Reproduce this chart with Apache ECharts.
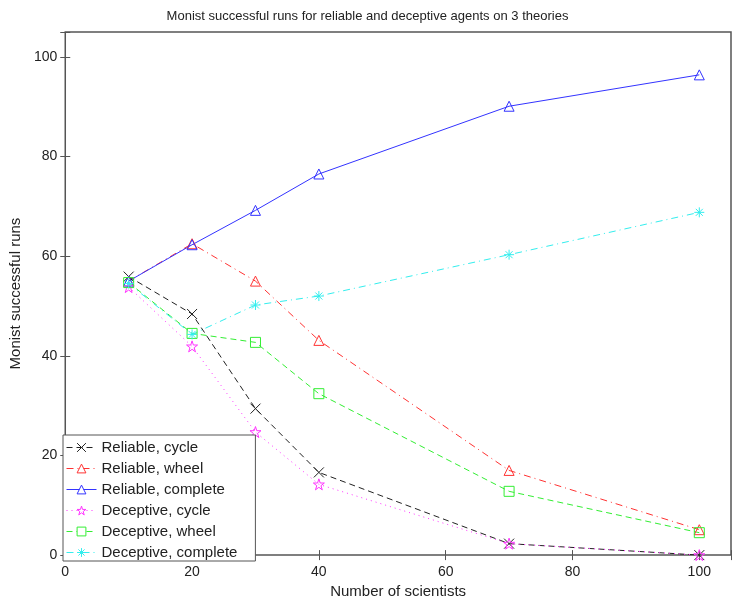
<!DOCTYPE html>
<html>
<head>
<meta charset="utf-8">
<script src="https://cdn.jsdelivr.net/npm/echarts@6/dist/echarts.min.js"></script>
<style>
  html, body { margin: 0; padding: 0; background: #fff; }
  #chart { width: 735px; height: 604px; }
</style>
</head>
<body>
<div id="chart"></div>
<script>
// number of scientists
var scientists = [10, 20, 30, 40, 70, 100];

var reliableCycle    = [55.9, 48.4, 29.4, 16.6, 2.3, 0];
var reliableWheel    = [55.0, 62.5, 55.0, 43.1, 17.0, 5.1];
var reliableComplete = [55.0, 62.3, 69.2, 76.5, 90.1, 96.4];
var deceptiveCycle   = [53.8, 41.9, 24.7, 14.2, 2.3, 0];
var deceptiveWheel   = [54.7, 44.5, 42.7, 32.4, 12.8, 4.5];
var deceptiveComplete = [54.5, 44.3, 50.2, 52.0, 60.3, 68.8];

var xTicks = [0, 20, 40, 60, 80, 100];
var yTicks = [0, 20, 40, 60, 80, 100];

var font = 'Liberation Sans, Arial, sans-serif';

// marker shapes drawn as outlines
var crossPath = 'path://M0,0L10,10M10,0L0,10';
var triPath = 'path://M5,0L10,10L0,10Z';
var rectPath = 'path://M0,0L10,0L10,10L0,10Z';
var starPath = 'path://M5,0L6.2,3.6L10,3.6L6.9,5.9L8.1,9.5L5,7.3L1.9,9.5L3.1,5.9L0,3.6L3.8,3.6Z';
var asteriskPath = 'path://M5,0L5,10M0,5L10,5M1.5,1.5L8.5,8.5M8.5,1.5L1.5,8.5';

function pairs(vals) {
  return scientists.map(function (x, i) { return [x, vals[i]]; });
}

function mkSeries(name, vals, color, dash, symbol, size) {
  return {
    name: name,
    type: 'line',
    data: pairs(vals),
    symbol: symbol,
    symbolSize: size,
    showAllSymbol: true,
    lineStyle: { color: color, width: 1, type: dash },
    itemStyle: { color: 'rgba(255,255,255,0)', borderColor: color, borderWidth: 1 },
    emphasis: { disabled: true },
    animation: false
  };
}

var names = ['Reliable, cycle', 'Reliable, wheel', 'Reliable, complete',
             'Deceptive, cycle', 'Deceptive, wheel', 'Deceptive, complete'];

var myChart = echarts.init(document.getElementById('chart'), null, { renderer: 'canvas' });

var inTick = { show: true, inside: true, length: 5, lineStyle: { color: '#555' } };

var option = {
  backgroundColor: '#fff',
  title: {
    text: 'Monist successful runs for reliable and deceptive agents on 3 theories',
    left: 'center',
    top: 5,
    textStyle: { fontFamily: font, fontSize: 13, fontWeight: 'normal', color: '#222' }
  },
  grid: {
    left: 59, right: 4, top: 32, bottom: 41,
    show: true, borderColor: '#555', borderWidth: 1.5, backgroundColor: '#fff'
  },
  legend: {
    orient: 'vertical',
    left: 63, top: 435,
    padding: [5, 18, 1, 3],
    itemWidth: 30, itemHeight: 11, itemGap: 6,
    backgroundColor: '#fff',
    borderColor: '#555', borderWidth: 1,
    itemStyle: { color: '#fff', borderWidth: 1 },
    lineStyle: { width: 1 },
    textStyle: { fontFamily: font, fontSize: 15, color: '#222' },
    data: names
  },
  xAxis: [{
    type: 'value', min: 0, max: 105, interval: 20,
    name: 'Number of scientists', nameLocation: 'middle', nameGap: 22,
    nameTextStyle: { fontFamily: font, fontSize: 15, color: '#222' },
    axisLine: { show: false },
    axisTick: inTick,
    splitLine: { show: false },
    axisLabel: {
      margin: 10, fontFamily: font, fontSize: 14, color: '#222',
      formatter: function (v) { return xTicks.indexOf(v) >= 0 ? String(v) : ''; }
    }
  }, {
    type: 'value', min: 0, max: 105, interval: 20, position: 'top',
    axisLine: { show: false }, axisTick: inTick, axisLabel: { show: false }, splitLine: { show: false }
  }],
  yAxis: [{
    type: 'value', min: 0, max: 105, interval: 20,
    name: 'Monist successful runs', nameLocation: 'middle', nameGap: 38,
    nameTextStyle: { fontFamily: font, fontSize: 15, color: '#222' },
    axisLine: { show: false },
    axisTick: inTick,
    splitLine: { show: false },
    axisLabel: {
      margin: 8, fontFamily: font, fontSize: 14, color: '#222',
      formatter: function (v) { return yTicks.indexOf(v) >= 0 ? String(v) : ''; }
    }
  }, {
    type: 'value', min: 0, max: 105, interval: 20, position: 'right',
    axisLine: { show: false }, axisTick: inTick, axisLabel: { show: false }, splitLine: { show: false }
  }],
  series: [
    mkSeries(names[0], reliableCycle, '#222222', [6, 4], crossPath, 10),
    mkSeries(names[1], reliableWheel, '#ff3333', [7, 4, 1, 4], triPath, 10),
    mkSeries(names[2], reliableComplete, '#3333ff', 'solid', triPath, 10),
    mkSeries(names[3], deceptiveCycle, '#ff33ff', [1, 4], starPath, 11),
    mkSeries(names[4], deceptiveWheel, '#33ee33', [6, 4], rectPath, 10),
    mkSeries(names[5], deceptiveComplete, '#33eeee', [7, 4, 1, 4], asteriskPath, 10)
  ]
};

myChart.setOption(option);
</script>
</body>
</html>
